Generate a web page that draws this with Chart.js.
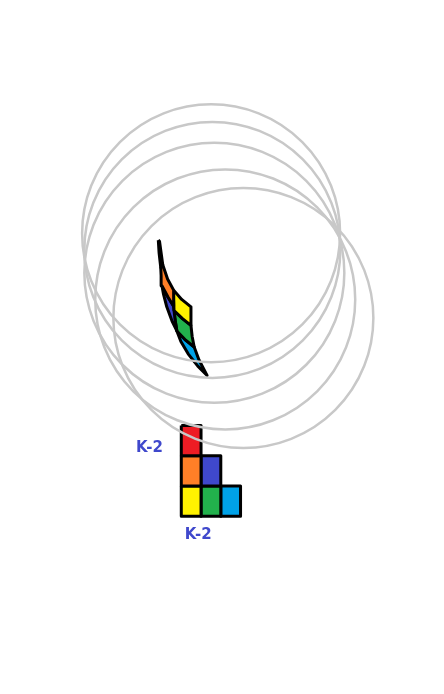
<!DOCTYPE html>
<html>
<head>
<meta charset="utf-8">
<script src="https://cdn.jsdelivr.net/npm/chart.js@4.4.1/dist/chart.umd.min.js"></script>
<style>
  html, body { margin: 0; padding: 0; background: #fff; overflow: hidden; }
  canvas { display: block; }
</style>
</head>
<body>
<canvas id="chart" width="444" height="694" style="width:444px;height:694px"></canvas>
<script>
// Gray circles (pencil through a common point): centre x, centre y, radius
const circleX = [195, 198, 203, 230, 275];
const circleY = [163, 190, 227, 270, 300];
const circleR = [129, 128, 130, 130, 130];

// Curved (conformally mapped) cells
const curvedColors = ['#ed1c24', '#ff7f27', '#fff200', '#3f48cc', '#22b14c', '#00a2e8'];
const curvedCells = [
    [[64,174],[66,195],[70,218],[75,214],[71,195],[67,176]],
    [[70,218],[75,214],[87,237],[102,255],[102,268],[102,281],[88,266],[73,248],[71,232]],
    [[102,255],[122,270],[145,282],[145,297],[145,312],[124,301],[103,288],[102,270]],
    [[73,248],[88,266],[102,281],[105,300],[110,321],[98,305],[85,282],[77,262]],
    [[103,288],[124,301],[145,312],[148,330],[153,347],[132,336],[110,321],[106,305]],
    [[110,321],[132,336],[153,347],[165,368],[185,393],[162,378],[138,358],[120,338]]
];

// Staircase K-2: row, column of each cell (same colour order)
const stairRows = [0, 1, 1, 2, 2, 2];
const stairCols = [0, 0, 1, 0, 1, 2];
const stairColors = ['#ed1c24', '#ff7f27', '#3f48cc', '#fff200', '#22b14c', '#00a2e8'];
const stairOrigin = [121, 474];
const stairSize = 49;

const labels = [
    { text: 'K-2', x: 42, y: 511 },
    { text: 'K-2', x: 163, y: 651 }
];

const datasets = [];

datasets.push({
    type: 'bubble',
    data: circleX.map((x, i) => ({ x: x, y: circleY[i], r: circleR[i] })),
    backgroundColor: 'rgba(0,0,0,0)',
    borderColor: '#c8c8c8',
    borderWidth: 2.5,
    hoverRadius: 0,
    clip: false
});

function shapeDataset(points, color) {
    const pts = points.map(p => ({ x: p[0], y: p[1] }));
    pts.push({ x: points[0][0], y: points[0][1] });
    return {
        type: 'line',
        data: pts,
        fill: 'shape',
        backgroundColor: color,
        borderColor: '#000',
        borderWidth: 3,
        borderJoinStyle: 'round',
        pointRadius: 0,
        tension: 0,
        clip: false
    };
}

curvedCells.forEach((cell, i) => datasets.push(shapeDataset(cell, curvedColors[i])));

stairRows.forEach((r, i) => {
    const x0 = stairOrigin[0] + stairCols[i] * stairSize;
    const y0 = stairOrigin[1] + r * stairSize;
    datasets.push(shapeDataset([[x0, y0], [x0 + stairSize, y0], [x0 + stairSize, y0 + stairSize], [x0, y0 + stairSize]], stairColors[i]));
});

// Draw the text labels in data coordinates
const labelPlugin = {
    id: 'labels',
    afterDatasetsDraw(chart) {
        const ctx = chart.ctx;
        ctx.save();
        ctx.fillStyle = '#3f48cc';
        ctx.font = 'bold 15px "DejaVu Sans", sans-serif';
        ctx.textAlign = 'center';
        ctx.textBaseline = 'middle';
        labels.forEach(l => {
            ctx.fillText(l.text, chart.scales.x.getPixelForValue(l.x), chart.scales.y.getPixelForValue(l.y));
        });
        ctx.restore();
    }
};

new Chart(document.getElementById('chart'), {
    type: 'scatter',
    data: { datasets: datasets },
    options: {
        responsive: false,
        devicePixelRatio: 1,
        animation: false,
        layout: { padding: 0 },
        plugins: { legend: { display: false }, tooltip: { enabled: false } },
        scales: {
            x: { type: 'linear', min: 0, max: 444, display: false },
            y: { type: 'linear', min: 0, max: 694, reverse: true, display: false }
        }
    },
    plugins: [labelPlugin]
});
</script>
</body>
</html>
